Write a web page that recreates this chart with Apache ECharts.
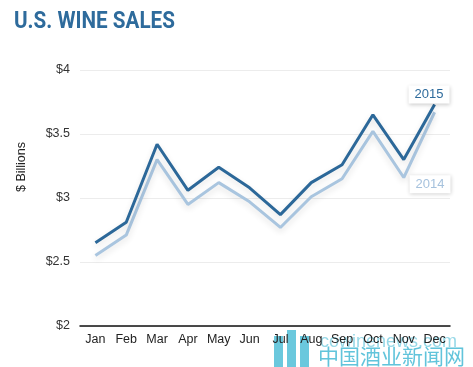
<!DOCTYPE html>
<html>
<head>
<meta charset="utf-8">
<script src="https://cdn.jsdelivr.net/npm/echarts@6/dist/echarts.min.js"></script>
<style>
html,body{margin:0;padding:0;background:#fff;}
#c{width:473px;height:367px;}
</style>
</head>
<body>
<div id="c"></div>
<script>
var months = ['Jan','Feb','Mar','Apr','May','Jun','Jul','Aug','Sep','Oct','Nov','Dec'];
var sales2015 = [2.65, 2.81, 3.42, 3.06, 3.24, 3.08, 2.87, 3.12, 3.26, 3.65, 3.30, 3.73];
var sales2014 = [2.55, 2.71, 3.30, 2.95, 3.12, 2.97, 2.77, 3.01, 3.15, 3.52, 3.16, 3.67];
var yTicks = [2, 2.5, 3, 3.5, 4];

var chart = echarts.init(document.getElementById('c'), null, {renderer: 'canvas'});
chart.setOption({
  animation: false,
  backgroundColor: '#fff',
  grid: { left: 80, right: 23, top: 70, bottom: 41 },
  xAxis: {
    type: 'category', data: months, boundaryGap: true,
    axisLine: { lineStyle: { color: '#111', width: 1.5 } },
    axisTick: { show: false },
    axisLabel: { color: '#222', fontSize: 12.5, margin: 7, fontFamily: 'Liberation Sans, sans-serif' }
  },
  yAxis: {
    type: 'value', min: 2, max: 4, interval: 0.5,
    axisLine: { show: false }, axisTick: { show: false },
    axisLabel: {
      color: '#333', fontSize: 12.5, margin: 10, fontFamily: 'Liberation Sans, sans-serif',
      formatter: function (v) { return yTicks.indexOf(v) >= 0 ? '$' + v : ''; }
    },
    splitLine: { lineStyle: { color: '#ececec', width: 1 } }
  },
  graphic: [
    { type: 'text', x: 14, y: 10, scaleX: 0.86,
      style: { text: 'U.S. WINE SALES', fill: '#2e6b9c', font: 'bold 24px Roboto, sans-serif',
        shadowColor: 'rgba(0,0,0,0.28)', shadowBlur: 5, shadowOffsetY: 2 } },
    { type: 'text', left: 15, top: 142, rotation: Math.PI / 2,
      style: { text: '$ Billions', fill: '#222', font: '12.5px "Liberation Sans", sans-serif' } },
    { type: 'text', left: 320, top: 333,
      style: { text: 'cowinenews.com', fill: 'rgba(80,190,215,0.6)', font: '18px "Liberation Sans", sans-serif' } },
    { type: 'text', left: 318, top: 346,
      style: { text: '中国酒业新闻网', fill: 'rgba(80,190,215,0.9)', font: '21px "Noto Sans CJK SC", sans-serif' } },
    { type: 'rect', shape: { x: 274, y: 336, width: 9, height: 31 }, style: { fill: 'rgba(80,190,215,0.85)' } },
    { type: 'rect', shape: { x: 287, y: 330, width: 9, height: 37 }, style: { fill: 'rgba(80,190,215,0.85)' } },
    { type: 'rect', shape: { x: 300, y: 336, width: 9, height: 31 }, style: { fill: 'rgba(80,190,215,0.85)' } }
  ],
  series: [
    {
      name: '2014', type: 'line', data: sales2014,
      symbol: 'none', z: 2,
      lineStyle: { color: '#a9c5df', width: 3,
        shadowColor: 'rgba(0,0,0,0.12)', shadowBlur: 6, shadowOffsetY: 3 },
      endLabel: {
        show: true, formatter: '{a}', offset: [-33, 72],
        color: '#a6c2dd', fontSize: 13, fontFamily: 'Liberation Sans, sans-serif',
        backgroundColor: '#fff', padding: [3, 6, 2, 6],
        shadowColor: 'rgba(0,0,0,0.2)', shadowBlur: 4, shadowOffsetY: 1
      }
    },
    {
      name: '2015', type: 'line', data: sales2015,
      symbol: 'none', z: 3,
      lineStyle: { color: '#2c6899', width: 3,
        shadowColor: 'rgba(0,0,0,0.12)', shadowBlur: 6, shadowOffsetY: 3 },
      endLabel: {
        show: true, formatter: '{a}', offset: [-34, -10],
        color: '#2e6b9c', fontSize: 13, fontFamily: 'Liberation Sans, sans-serif',
        backgroundColor: '#fff', padding: [3, 6, 2, 6],
        shadowColor: 'rgba(0,0,0,0.2)', shadowBlur: 4, shadowOffsetY: 1
      }
    }
  ]
});
</script>
</body>
</html>
